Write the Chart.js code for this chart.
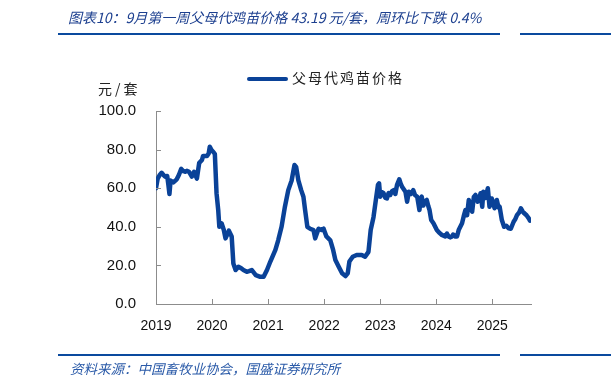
<!DOCTYPE html>
<html>
<head>
<meta charset="utf-8">
<script src="https://cdn.jsdelivr.net/npm/chart.js@4.4.1/dist/chart.umd.min.js"></script>
<style>
  body { margin: 0; background: #fff; }
  #wrap { position: relative; width: 611px; height: 387px; overflow: hidden; }
  #myChart { position: absolute; left: 0; top: 0; }
  .txt { position: absolute; white-space: nowrap; font-family: "Noto Sans CJK SC", sans-serif; }
  #title { left: 68px; top: 7px; font-size: 14px; font-style: italic; color: #1c3f8f; }
  #source { left: 70px; top: 358px; font-size: 13.5px; font-style: italic; color: #2a5aa8; }
  .rule { position: absolute; height: 2px; background: #0a4a9e; }
  #unit { left: 98px; top: 78px; font-size: 14px; letter-spacing: 3px; color: #222; }
  #legend { left: 247px; top: 67px; font-size: 14px; letter-spacing: 2px; color: #222; }
  #legend span { display: inline-block; width: 41px; height: 4px; background: #0a4298; vertical-align: middle; margin-right: 4px; border-radius: 2px; }
</style>
</head>
<body>
<div id="wrap">
  <canvas id="myChart" width="611" height="387"></canvas>
  <div class="txt" id="title">图表10：9月第一周父母代鸡苗价格 43.19 元/套，周环比下跌 0.4%</div>
  <div class="rule" style="left:58px; top:33px; width:442px;"></div>
  <div class="rule" style="left:520px; top:33px; width:91px;"></div>
  <div class="txt" id="unit">元/套</div>
  <div class="txt" id="legend"><span></span>父母代鸡苗价格</div>
  <div class="rule" style="left:58px; top:354px; width:442px;"></div>
  <div class="rule" style="left:520px; top:354px; width:91px;"></div>
  <div class="txt" id="source">资料来源：中国畜牧业协会，国盛证券研究所</div>
</div>
<script>
'use strict';

// Data (x = decimal year, y = 元/套)
let seriesName = '父母代鸡苗价格';
let yearTicks = [2019, 2020, 2021, 2022, 2023, 2024, 2025];
let priceTicks = [0, 20, 40, 60, 80, 100];

let weekYears = [
  2019.00, 2019.03, 2019.07, 2019.10, 2019.13, 2019.16, 2019.20, 2019.22, 2019.24, 2019.26,
  2019.31, 2019.37, 2019.41, 2019.45, 2019.48, 2019.52, 2019.55, 2019.59, 2019.64, 2019.68,
  2019.73, 2019.77, 2019.82, 2019.84, 2019.91, 2019.94, 2019.96, 2019.99, 2020.03, 2020.05,
  2020.08, 2020.11, 2020.13, 2020.17, 2020.21, 2020.24, 2020.27, 2020.30, 2020.35, 2020.38,
  2020.42, 2020.47, 2020.52, 2020.56, 2020.62, 2020.66, 2020.71, 2020.78, 2020.86, 2020.92,
  2020.98, 2021.04, 2021.13, 2021.18, 2021.24, 2021.30, 2021.36, 2021.42, 2021.47, 2021.50,
  2021.54, 2021.59, 2021.63, 2021.66, 2021.70, 2021.75, 2021.81, 2021.84, 2021.90, 2021.96,
  2021.99, 2022.04, 2022.11, 2022.16, 2022.20, 2022.26, 2022.32, 2022.38, 2022.42, 2022.45,
  2022.51, 2022.58, 2022.67, 2022.73, 2022.79, 2022.83, 2022.88, 2022.93, 2022.96, 2022.98,
  2023.00, 2023.03, 2023.06, 2023.09, 2023.12, 2023.15, 2023.18, 2023.21, 2023.24, 2023.27,
  2023.30, 2023.34, 2023.37, 2023.39, 2023.42, 2023.45, 2023.48, 2023.51, 2023.55, 2023.59,
  2023.62, 2023.66, 2023.70, 2023.72, 2023.74, 2023.77, 2023.79, 2023.83, 2023.86, 2023.88,
  2023.91, 2023.95, 2024.01, 2024.05, 2024.10, 2024.16, 2024.19, 2024.22, 2024.25, 2024.28,
  2024.30, 2024.34, 2024.37, 2024.40, 2024.46, 2024.49, 2024.52, 2024.55, 2024.58, 2024.61,
  2024.64, 2024.67, 2024.70, 2024.74, 2024.77, 2024.79, 2024.82, 2024.84, 2024.88, 2024.92,
  2024.95, 2024.99, 2025.02, 2025.04, 2025.08, 2025.11, 2025.13, 2025.17, 2025.21, 2025.25,
  2025.29, 2025.33, 2025.38, 2025.41, 2025.44, 2025.48, 2025.51, 2025.54, 2025.56, 2025.61,
  2025.65, 2025.67
];

let prices = [
  60.0, 65.0, 67.0, 68.0, 67.0, 66.0, 66.3, 62.0, 57.0, 64.0,
  63.0, 64.6, 67.0, 70.0, 69.0, 68.5, 69.0, 68.5, 66.0, 68.5,
  65.0, 73.0, 74.6, 76.7, 76.7, 78.0, 81.5, 79.8, 78.5, 77.7,
  57.4, 48.7, 40.0, 41.8, 38.3, 34.0, 36.0, 38.0, 35.0, 21.0,
  17.6, 19.3, 18.5, 17.6, 16.7, 17.0, 17.6, 15.0, 14.1, 14.1,
  17.6, 22.0, 28.0, 33.0, 40.0, 50.4, 59.0, 64.0, 72.0, 71.0,
  64.0, 59.0, 55.6, 48.7, 40.0, 39.0, 38.3, 34.0, 39.0, 38.3,
  39.0, 35.0, 33.0, 28.0, 22.8, 19.3, 15.9, 14.5, 15.9, 22.0,
  24.5, 25.4, 25.4, 24.5, 27.0, 38.3, 45.0, 55.6, 61.7, 62.5,
  55.6, 58.0, 57.4, 55.0, 54.7, 57.5, 56.5, 58.5, 59.0, 57.0,
  61.7, 64.6, 62.0, 60.8, 59.5, 58.2, 53.0, 58.2, 57.0, 59.0,
  56.5, 55.6, 48.7, 54.0, 55.6, 51.0, 53.0, 53.9, 50.5, 48.7,
  43.5, 41.8, 38.3, 37.0, 35.8, 35.0, 36.5, 35.0, 34.5, 35.0,
  36.0, 35.0, 35.0, 38.3, 41.8, 45.5, 48.7, 46.0, 53.9, 50.0,
  47.8, 55.5, 56.5, 53.0, 54.5, 57.4, 50.4, 58.2, 55.0, 60.0,
  50.4, 54.7, 52.0, 49.6, 53.9, 50.0, 50.4, 43.5, 40.0, 40.5,
  39.2, 39.0, 42.6, 44.0, 46.0, 47.5, 49.6, 48.0, 47.3, 46.0,
  44.4, 43.19
];

let lineColor = '#0a4298';
let axisColor = '#8c8c8c';

let points = [];
for (let i = 0; i < weekYears.length; i++) {
  points.push({ x: weekYears[i], y: prices[i] });
}

// short tick marks drawn inside the plot, like the original
let innerTicks = {
  id: 'innerTicks',
  afterDraw(chart) {
    let ctx = chart.ctx;
    let xs = chart.scales.x;
    let ys = chart.scales.y;
    ctx.save();
    ctx.strokeStyle = axisColor;
    ctx.lineWidth = 1;
    ctx.beginPath();
    for (let i = 0; i < priceTicks.length; i++) {
      let py = Math.round(ys.getPixelForValue(priceTicks[i])) + 0.5;
      ctx.moveTo(xs.left, py);
      ctx.lineTo(xs.left + 5, py);
    }
    for (let i = 1; i < yearTicks.length; i++) {
      let px = Math.round(xs.getPixelForValue(yearTicks[i])) + 0.5;
      ctx.moveTo(px, ys.bottom);
      ctx.lineTo(px, ys.bottom - 5);
    }
    ctx.stroke();
    ctx.restore();
  }
};

let chartConfig = {
  type: 'line',
  data: {
    datasets: [{
      label: seriesName,
      data: points,
      borderColor: lineColor,
      backgroundColor: lineColor,
      borderWidth: 4.5,
      pointRadius: 0,
      tension: 0,
      borderJoinStyle: 'round',
      borderCapStyle: 'round'
    }]
  },
  options: {
    responsive: false,
    animation: false,
    layout: { padding: { left: 0, top: 111, right: 80, bottom: 0 } },
    plugins: {
      legend: { display: false },
      tooltip: { enabled: false }
    },
    scales: {
      x: {
        type: 'linear',
        min: 2019,
        max: 2025.69,
        afterFit(scale) { scale.height = 83; },
        afterBuildTicks(scale) {
          scale.ticks = yearTicks.map(v => ({ value: v }));
        },
        grid: { drawOnChartArea: false, drawTicks: false },
        border: { color: axisColor, width: 1 },
        ticks: {
          padding: 14,
          maxRotation: 0,
          autoSkip: false,
          color: '#111',
          font: { family: 'Liberation Sans', size: 14 },
          callback: v => String(v)
        }
      },
      y: {
        min: 0,
        max: 100,
        afterFit(scale) { scale.width = 156; },
        afterBuildTicks(scale) {
          scale.ticks = priceTicks.map(v => ({ value: v }));
        },
        grid: { drawOnChartArea: false, drawTicks: false },
        border: { color: axisColor, width: 1 },
        ticks: {
          padding: 20,
          color: '#111',
          font: { family: 'Liberation Sans', size: 15 },
          callback: v => v.toFixed(1)
        }
      }
    }
  },
  plugins: [innerTicks]
};

let ctx = document.getElementById('myChart').getContext('2d');
let myChart = new Chart(ctx, chartConfig); //eslint-disable-line
</script>
</body>
</html>
